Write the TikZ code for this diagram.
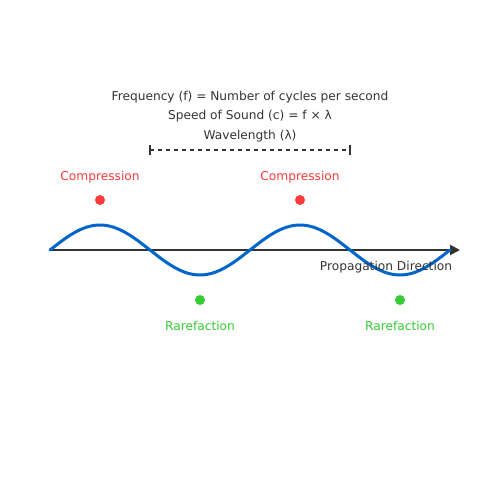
\documentclass[tikz,border=0pt]{standalone}
\usepackage{fontspec}
\setmainfont{DejaVu Sans}
\usepackage{tikz}
\usetikzlibrary{arrows.meta}
\usetikzlibrary{positioning}

\definecolor{wavblue}{HTML}{0066CC}
\definecolor{cmpred}{HTML}{FF3B3B}
\definecolor{rargreen}{HTML}{33CC33}
\definecolor{txtgray}{HTML}{333333}

\begin{document}
\begin{tikzpicture}[x=1pt, y=-1pt, node distance = 14pt,
txt/.style={font=\fontsize{12.2}{14}\selectfont, text=txtgray, inner sep=0pt},
dot/.style={circle, minimum size = 10pt, inner sep = 0pt},
dotc/.style={fill=cmpred, dot},
dotr/.style={fill=rargreen, dot},
lblc/.style={txt, text=cmpred, node distance = 12pt},
lblr/.style={txt, text=rargreen, node distance = 16pt}]
\def\amp{25}
\def\mid{250}
\useasboundingbox (0,0) rectangle (500,500);

\node[txt] (freq) at (250,97) {Frequency (f) = Number of cycles per second};
\node[txt] (speed) at (250,116) {Speed of Sound (c) = f × λ};
\node[txt] (wlen) at (250,136) {Wavelength (λ)};

\coordinate (wlL) at (150,150);
\coordinate (wlR) at (350,150);
\draw[txtgray, line width=1.5pt, dash pattern=on 4pt off 4pt] (wlL) -- (wlR);
\draw[txtgray, line width=1.5pt] ([yshift=-5pt]wlL) -- ([yshift=5pt]wlL);
\draw[txtgray, line width=1.5pt] ([yshift=-5pt]wlR) -- ([yshift=5pt]wlR);

\node[dotc] (c1) at (100,200) {};
\node[dotc] (c2) at (300,200) {};
\node[dotr] (r1) at (200,300) {};
\node[dotr] (r2) at (400,300) {};
\node[lblc] (c1l) [above=of c1] {Compression};
\node[lblc] (c2l) [above=of c2] {Compression};
\node[lblr] (r1l) [below=of r1] {Rarefaction};
\node[lblr] (r2l) [below=of r2] {Rarefaction};

\coordinate (axS) at (50,\mid);
\coordinate (axE) at (460,\mid);
\draw[txtgray, line width=2pt, -{Triangle[length=10pt, width=10pt]}] (axS) -- (axE);

\draw[wavblue, line width=3pt, line cap=round]
  plot[domain=50:450, samples=120, smooth] (\x, {\mid - \amp*sin((\x-50)*1.8)});

\node[txt] (prop) at (386,267) {Propagation Direction};
\end{tikzpicture}
\end{document}
